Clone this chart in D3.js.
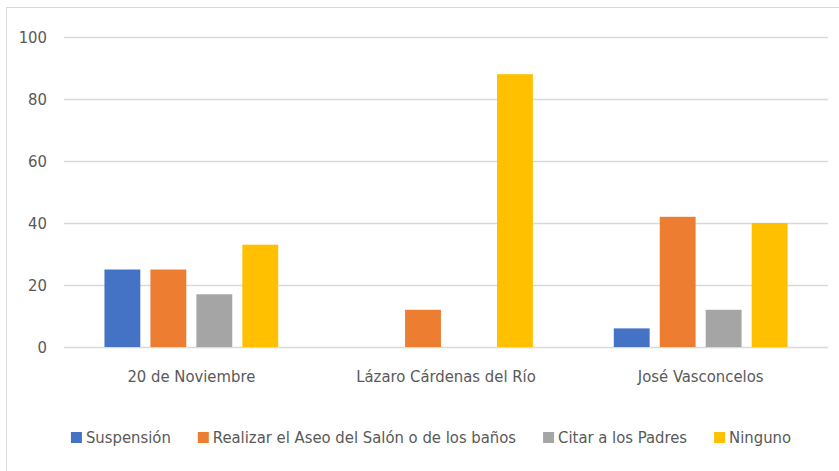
<!DOCTYPE html>
<html>
<head>
<meta charset="utf-8">
<script src="https://cdn.jsdelivr.net/npm/d3@7"></script>
<style>
    body { margin: 0; background: #fff; }
    text { font-family: "DejaVu Sans Condensed", "Liberation Sans", sans-serif; fill: #595959; }
</style>
</head>
<body>
<script>
'use strict';

// data
var categories = ['20 de Noviembre', 'Lázaro Cárdenas del Río', 'José Vasconcelos'];
var seriesNames = ['Suspensión', 'Realizar el Aseo del Salón o de los baños', 'Citar a los Padres', 'Ninguno'];
var suspension = [25, 0, 6];
var aseo = [25, 12, 42];
var citar = [17, 0, 12];
var ninguno = [33, 88, 40];
var yTicks = [0, 20, 40, 60, 80, 100];
var colors = ['#4472C4', '#ED7D31', '#A5A5A5', '#FFC000'];

// sizes
var width = 839;
var height = 471;
var plot = {left: 64, right: 828, top: 37, bottom: 347};
var fontSize = 16.5;

var seriesValues = [suspension, aseo, citar, ninguno];

var svg = d3.select('body').append('svg')
    .attr('width', width)
    .attr('height', height);

// chart border (only top and left visible in the crop)
svg.append('rect')
    .attr('x', 6.5)
    .attr('y', 7.5)
    .attr('width', 860)
    .attr('height', 500)
    .attr('fill', 'none')
    .attr('stroke', '#d9d9d9');

// scales
var x0 = d3.scaleBand()
    .domain(categories)
    .range([plot.left, plot.right]);

var x1 = d3.scaleBand()
    .domain(d3.range(seriesNames.length))
    .range([0, x0.bandwidth()])
    .paddingInner(0.22)
    .paddingOuter(0.88);

var y = d3.scaleLinear()
    .domain([0, 100])
    .range([plot.bottom, plot.top]);

// gridlines
svg.append('g')
    .selectAll('line')
    .data(yTicks)
    .enter().append('line')
    .attr('x1', plot.left)
    .attr('x2', plot.right)
    .attr('y1', function(d) { return Math.round(y(d)) + 0.5; })
    .attr('y2', function(d) { return Math.round(y(d)) + 0.5; })
    .attr('stroke', '#d9d9d9')
    .attr('stroke-width', 1.5);

// y axis labels
var yAxis = svg.append('g')
    .attr('transform', 'translate(' + 47 + ',0)')
    .call(d3.axisLeft(y).tickValues(yTicks).tickSize(0).tickPadding(0));
yAxis.select('.domain').remove();
yAxis.selectAll('text')
    .attr('font-size', fontSize)
    .attr('font-family', null)
    .attr('dy', '0.36em');

// bars
var groups = svg.append('g')
    .selectAll('g')
    .data(categories)
    .enter().append('g')
    .attr('transform', function(d) { return 'translate(' + x0(d) + ',0)'; });

groups.selectAll('rect')
    .data(function(d, i) {
        return seriesValues.map(function(s, k) { return {k: k, v: s[i]}; });
    })
    .enter().append('rect')
    .filter(function(d) { return d.v > 0; })
    .attr('x', function(d) { return x1(d.k); })
    .attr('y', function(d) { return y(d.v); })
    .attr('width', x1.bandwidth())
    .attr('height', function(d) { return y(0) - y(d.v); })
    .attr('fill', function(d) { return colors[d.k]; });

// category labels
var xAxis = svg.append('g')
    .attr('transform', 'translate(0,' + 369 + ')')
    .call(d3.axisBottom(x0).tickSize(0).tickPadding(0));
xAxis.select('.domain').remove();
xAxis.selectAll('text')
    .attr('font-size', fontSize)
    .attr('font-family', null)
    .attr('dy', '0.78em');

// legend
var legend = svg.append('g');
var items = legend.selectAll('g')
    .data(seriesNames)
    .enter().append('g');

items.append('rect')
    .attr('width', 11)
    .attr('height', 11)
    .attr('y', 432)
    .attr('fill', function(d, i) { return colors[i]; });

items.append('text')
    .attr('x', 15)
    .attr('y', 443)
    .attr('font-size', fontSize)
    .text(function(d) { return d; });

// place legend items side by side and center them
var offset = 0;
items.each(function() {
    var w = this.querySelector('text').getComputedTextLength();
    d3.select(this).attr('transform', 'translate(' + offset + ',0)');
    offset += 15 + w + 27;
});
offset -= 27;
legend.attr('transform', 'translate(' + (431 - offset / 2) + ',0)');
</script>
</body>
</html>
